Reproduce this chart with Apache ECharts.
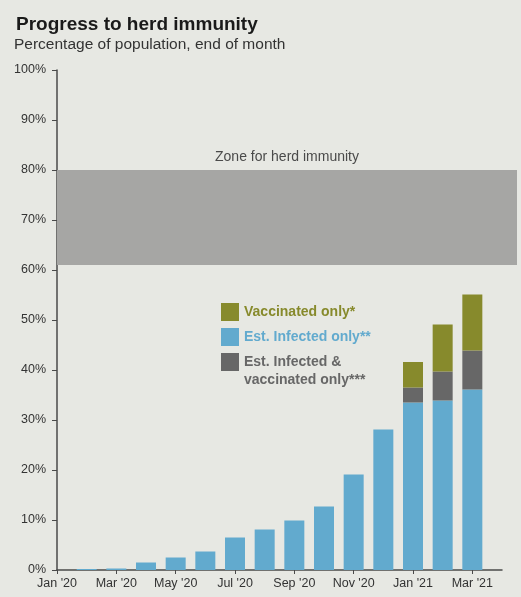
<!DOCTYPE html>
<html><head><meta charset="utf-8">
<script src="https://cdn.jsdelivr.net/npm/echarts@6/dist/echarts.min.js"></script>
<style>html,body{margin:0;padding:0;background:#e7e8e3;}#c{width:521px;height:597px;}</style>
</head><body><div id="c"></div>
<script>
var months = ["Jan '20","Feb '20","Mar '20","Apr '20","May '20","Jun '20","Jul '20","Aug '20","Sep '20","Oct '20","Nov '20","Dec '20","Jan '21","Feb '21","Mar '21","Apr '21"];
var infectedOnly = [null,0.2,0.3,1.5,2.5,3.7,6.5,8.1,9.9,12.7,19.1,28.1,33.5,33.9,36.1,null];
var infectedAndVacc = [null,null,null,null,null,null,null,null,null,null,null,null,3.0,5.8,7.8,null];
var vaccinatedOnly = [null,null,null,null,null,null,null,null,null,null,null,null,5.1,9.4,11.2,null];
var zoneRange = [61, 80];

var nVacc = 'Vaccinated only*', nInf = 'Est. Infected only**', nBoth = 'Est. Infected &\nvaccinated only***';
var cBlue = '#62aace', cGrey = '#676767', cOlive = '#878a2c';
var F = 'Liberation Sans, Arial, sans-serif';
var legendText = {fontFamily: F, fontSize: 14, fontWeight: 'bold', lineHeight: 18};
var chart = echarts.init(document.getElementById('c'));
chart.setOption({
  backgroundColor: '#e7e8e3',
  animation: false,
  title: [{
    text: 'Progress to herd immunity', left: 11, top: 10,
    textStyle: {fontFamily: F, fontSize: 19, fontWeight: 'bold', color: '#1a1a1a'}
  }, {
    text: 'Percentage of population, end of month', left: 9, top: 32,
    textStyle: {fontFamily: F, fontSize: 15.5, fontWeight: 'normal', color: '#333'}
  }],
  legend: [{
    orient: 'vertical', left: 216, top: 298, itemWidth: 18, itemHeight: 18, itemGap: 7,
    icon: 'rect', textStyle: legendText,
    data: [
      {name: nVacc, textStyle: {color: cOlive}},
      {name: nInf, textStyle: {color: cBlue}}
    ]
  }, {
    orient: 'vertical', left: 216, top: 330, itemWidth: 18, itemHeight: 18,
    icon: 'rect', textStyle: legendText,
    formatter: function (name) { return '\n' + name; },
    data: [{name: nBoth, textStyle: {color: cGrey}}]
  }],
  grid: [
    {left: 57, right: 19, top: 70, bottom: 27},
    {left: 57, right: 4, top: 70, bottom: 27}
  ],
  xAxis: [{
    gridIndex: 0, type: 'category', data: months, boundaryGap: false,
    axisLine: {lineStyle: {color: '#4a4a4a', width: 1.5}},
    axisTick: {show: true, interval: 1, length: 4, lineStyle: {color: '#4a4a4a'}},
    axisLabel: {interval: 1, color: '#333', fontSize: 12.5, fontFamily: F, margin: 7},
    splitLine: {show: false}
  }, {
    gridIndex: 1, type: 'value', min: 0, max: 1, show: false
  }],
  yAxis: [{
    gridIndex: 0, type: 'value', min: 0, max: 100, interval: 10,
    axisLine: {show: true, lineStyle: {color: '#4a4a4a', width: 1.5}},
    axisTick: {show: true, length: 5, lineStyle: {color: '#4a4a4a'}},
    axisLabel: {color: '#333', fontSize: 12.5, fontFamily: F, margin: 11, formatter: '{value}%'},
    splitLine: {show: false}
  }, {
    gridIndex: 1, type: 'value', min: 0, max: 100, show: false
  }],
  series: [{
    name: nInf, type: 'bar', stack: 's', data: infectedOnly, barWidth: 20,
    itemStyle: {color: cBlue}, xAxisIndex: 0, yAxisIndex: 0
  }, {
    name: nBoth, type: 'bar', stack: 's', data: infectedAndVacc, barWidth: 20,
    itemStyle: {color: cGrey}
  }, {
    name: nVacc, type: 'bar', stack: 's', data: vaccinatedOnly, barWidth: 20,
    itemStyle: {color: cOlive}
  }, {
    type: 'line', xAxisIndex: 1, yAxisIndex: 1, data: [], silent: true, z: 1,
    markArea: {
      silent: true,
      itemStyle: {color: '#a6a6a4'},
      label: {show: true, position: 'top', distance: 6, color: '#4a4a4a', fontSize: 14, fontFamily: F},
      data: [[{name: 'Zone for herd immunity', yAxis: zoneRange[0], xAxis: 0}, {yAxis: zoneRange[1], xAxis: 1}]]
    }
  }]
});
</script></body></html>
